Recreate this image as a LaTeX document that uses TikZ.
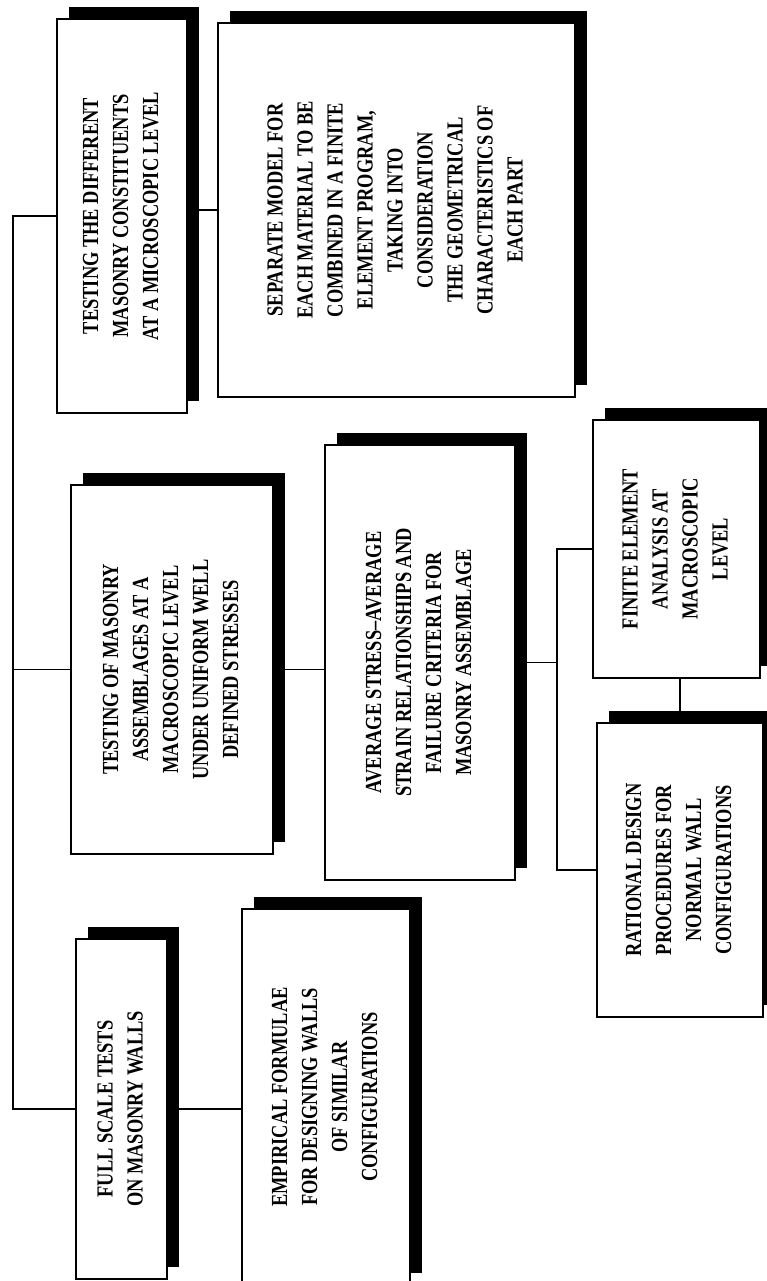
\documentclass[tikz,border=0pt]{standalone}
\usepackage{fontspec}
\setmainfont{Liberation Serif}[FakeStretch=0.8]
\usepackage{graphicx}
\usetikzlibrary{shadows,calc}

\newcommand{\vlines}[1]{\rotatebox{90}{\begin{tabular}{@{}c@{}}#1\end{tabular}}}

\begin{document}
\begin{tikzpicture}[x=1pt, y=-1pt,
  blk/.style={draw, line width=1.2pt, fill=white, inner sep=0pt,
    minimum width=#1, font=\fontsize{23}{30}\selectfont\bfseries,
    drop shadow={shadow xshift=12pt, shadow yshift=12pt, fill=black, opacity=1}},
  link/.style={line width=1.1pt}
]
\useasboundingbox (0,0) rectangle (767,1281);
\clip (0,0) rectangle (767,1281);

% Micro level
\node[blk=130pt, minimum height=394pt] (micro) at (122,216)
  {\vlines{TESTING THE DIFFERENT\\MASONRY CONSTITUENTS\\AT A MICROSCOPIC LEVEL}};
\node[blk=357pt, minimum height=374pt] (sepmodel) at (396.5,210)
  {\vlines{SEPARATE MODEL FOR\\EACH MATERIAL TO BE\\COMBINED IN A FINITE\\ELEMENT PROGRAM,\\TAKING INTO\\CONSIDERATION\\THE GEOMETRICAL\\CHARACTERISTICS OF\\EACH PART}};

% Macro level
\node[blk=202pt, minimum height=369pt] (macro) at (172,669.5)
  {\vlines{TESTING OF MASONRY\\ASSEMBLAGES AT A\\MACROSCOPIC LEVEL\\UNDER UNIFORM WELL\\DEFINED STRESSES}};
\node[blk=190pt, minimum height=435pt] (avg) at (420,662.5)
  {\vlines{AVERAGE STRESS--AVERAGE\\STRAIN RELATIONSHIPS AND\\FAILURE CRITERIA FOR\\MASONRY ASSEMBLAGE}};
\node[blk=167pt, minimum height=258pt] (fea) at (676.5,549)
  {\vlines{FINITE ELEMENT\\ANALYSIS AT\\MACROSCOPIC\\LEVEL}};
\node[blk=166pt, minimum height=294pt] (rational) at (680,870)
  {\vlines{RATIONAL DESIGN\\PROCEDURES FOR\\NORMAL WALL\\CONFIGURATIONS}};

% Full scale
\node[blk=91pt, minimum height=340pt] (full) at (121.5,1109)
  {\vlines{FULL SCALE TESTS\\ON MASONRY WALLS}};
\node[blk=168pt, minimum height=376pt] (empir) at (326,1097)
  {\vlines{EMPIRICAL FORMULAE\\FOR DESIGNING WALLS\\OF SIMILAR\\CONFIGURATIONS}};

% Connectors
\coordinate (trunk) at (13,0);
\coordinate (fork) at (557,0);
\draw[link] (micro.west) -- (micro.west -| trunk) -- (full.west -| trunk) -- (full.west);
\draw[link] (macro.west) -- (macro.west -| trunk);
\draw[link] (sepmodel.west -| micro.east) -- (sepmodel.west);
\draw[link] (macro.east) -- (macro.east -| avg.west);
\draw[link] (avg.east) -- (avg.east -| fork);
\draw[link] (fea.west) -- (fea.west -| fork) -- (rational.west -| fork) -- (rational.west);
\draw[link] (fea.south) -- (fea.south -| rational.north) -- (rational.north);
\draw[link] (full.east) -- (full.east -| empir.west);

\end{tikzpicture}
\end{document}
